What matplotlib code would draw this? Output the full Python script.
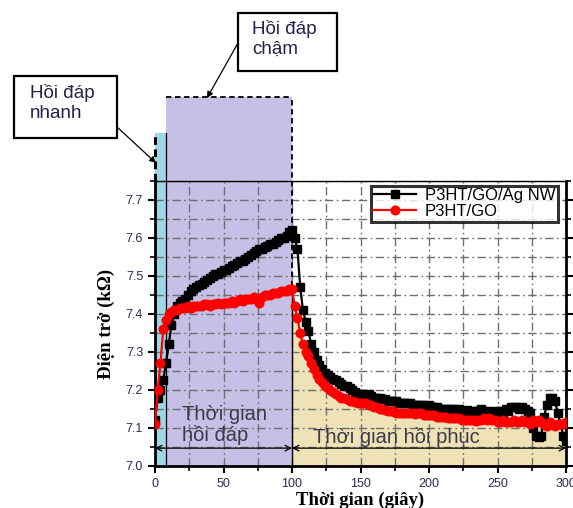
import matplotlib
matplotlib.use('Agg')
import matplotlib.pyplot as plt
import numpy as np
from matplotlib.patches import Rectangle, FancyArrowPatch
from matplotlib.ticker import MultipleLocator, FormatStrFormatter

# ---------------- data ----------------
time_s = list(range(0, 301, 2))

r_agnw = [
    7.12, 7.18, 7.20, 7.225, 7.27, 7.32, 7.37, 7.40, 7.42, 7.43,
    7.435, 7.44, 7.45, 7.46, 7.465, 7.47, 7.475, 7.48, 7.485, 7.49,
    7.495, 7.50, 7.505, 7.505, 7.51, 7.515, 7.515, 7.52, 7.525, 7.53,
    7.535, 7.54, 7.54, 7.545, 7.55, 7.555, 7.56, 7.565, 7.57, 7.57,
    7.575, 7.58, 7.585, 7.585, 7.59, 7.595, 7.60, 7.60, 7.605, 7.615,
    7.62, 7.60, 7.57, 7.47, 7.41, 7.38, 7.355, 7.32, 7.30, 7.28,
    7.265, 7.255, 7.245, 7.24, 7.235, 7.23, 7.225, 7.22, 7.215, 7.21,
    7.21, 7.205, 7.20, 7.195, 7.19, 7.19, 7.19, 7.185, 7.19, 7.185,
    7.18, 7.18, 7.18, 7.175, 7.175, 7.17, 7.17, 7.17, 7.17, 7.165,
    7.165, 7.165, 7.165, 7.165, 7.16, 7.16, 7.16, 7.16, 7.16, 7.155,
    7.16, 7.155, 7.155, 7.155, 7.15, 7.15, 7.15, 7.15, 7.15, 7.15,
    7.148, 7.15, 7.145, 7.145, 7.148, 7.14, 7.145, 7.145, 7.145, 7.15,
    7.145, 7.14, 7.145, 7.14, 7.14, 7.145, 7.145, 7.14, 7.15, 7.145,
    7.155, 7.155, 7.155, 7.15, 7.155, 7.15, 7.145, 7.14, 7.10, 7.08,
    7.075, 7.08, 7.13, 7.16, 7.18, 7.18, 7.17, 7.14, 7.11, 7.08,
    7.065,
]

r_go = [
    7.11, 7.20, 7.27, 7.36, 7.385, 7.40, 7.405, 7.41, 7.41, 7.415,
    7.415, 7.415, 7.42, 7.415, 7.42, 7.42, 7.42, 7.42, 7.425, 7.425,
    7.42, 7.425, 7.425, 7.43, 7.425, 7.43, 7.43, 7.43, 7.435, 7.43,
    7.435, 7.44, 7.435, 7.44, 7.44, 7.44, 7.445, 7.44, 7.43, 7.445,
    7.45, 7.45, 7.45, 7.455, 7.455, 7.455, 7.46, 7.46, 7.46, 7.465,
    7.465, 7.42, 7.39, 7.35, 7.32, 7.30, 7.29, 7.27, 7.255, 7.24,
    7.23, 7.22, 7.21, 7.205, 7.20, 7.195, 7.19, 7.185, 7.18, 7.178,
    7.175, 7.172, 7.17, 7.168, 7.166, 7.165, 7.165, 7.165, 7.16, 7.16,
    7.155, 7.155, 7.15, 7.15, 7.148, 7.145, 7.145, 7.145, 7.14, 7.14,
    7.14, 7.14, 7.14, 7.14, 7.14, 7.138, 7.14, 7.14, 7.135, 7.135,
    7.135, 7.135, 7.135, 7.13, 7.13, 7.13, 7.128, 7.125, 7.125, 7.125,
    7.125, 7.125, 7.12, 7.12, 7.12, 7.12, 7.12, 7.118, 7.12, 7.12,
    7.125, 7.12, 7.125, 7.12, 7.12, 7.115, 7.115, 7.12, 7.115, 7.115,
    7.115, 7.12, 7.115, 7.115, 7.12, 7.115, 7.115, 7.11, 7.12, 7.115,
    7.12, 7.115, 7.11, 7.105, 7.115, 7.11, 7.105, 7.11, 7.11, 7.11,
    7.115,
]

series_names = ["P3HT/GO/Ag NW", "P3HT/GO"]
x_ticks = [0, 50, 100, 150, 200, 250, 300]
y_ticks = [7.0, 7.1, 7.2, 7.3, 7.4, 7.5, 7.6, 7.7]

# ---------------- figure ----------------
W, H = 573, 508
fig = plt.figure(figsize=(W / 100, H / 100), dpi=100)

def fp(px, py):
    return (px / W, 1 - py / H)

ax_l, ax_r, ax_t, ax_b = 155, 566, 181, 466
ax = fig.add_axes([ax_l / W, 1 - ax_b / H, (ax_r - ax_l) / W, (ax_b - ax_t) / H])
ax.set_xlim(0, 300)
ax.set_ylim(7.0, 7.75)

t = np.array(time_s)
a = np.array(r_agnw)
g = np.array(r_go)

cyan = '#9ed8e7'
purple = '#c6bfe6'
tan = '#efe2b6'

# shaded regions (extend above the axes)
ax.add_patch(Rectangle((0, 7.0), 8, 0.876, facecolor=cyan, edgecolor='none', zorder=0.5, clip_on=False))
ax.add_patch(Rectangle((8, 7.0), 92, 0.971, facecolor=purple, edgecolor='none', zorder=0.5, clip_on=False))
m = t >= 100
ax.fill_between(t[m], 7.0, g[m], color=tan, lw=0, zorder=0.5)

# borders of highlighted regions
ax.plot([0, 0], [7.75, 7.876], color='black', lw=2.2, ls=(0, (2.5, 1.5)), clip_on=False, zorder=3)
ax.plot([8, 8], [7.0, 7.876], color='black', lw=0.9, clip_on=False, zorder=3)
ax.plot([8, 100], [7.971, 7.971], color='black', lw=1.3, ls=(0, (3, 2)), clip_on=False, zorder=3)
ax.plot([100, 100], [7.45, 7.971], color='black', lw=1.3, ls=(0, (3, 2)), clip_on=False, zorder=3)
ax.plot([100, 100], [7.0, 7.45], color='black', lw=1.0, zorder=3)

# grid
ax.xaxis.set_minor_locator(MultipleLocator(25))
ax.yaxis.set_minor_locator(MultipleLocator(0.05))
ax.set_xticks(x_ticks)
ax.set_yticks(y_ticks)
ax.yaxis.set_major_formatter(FormatStrFormatter('%.1f'))
ax.set_axisbelow('line')
gstyle = dict(color='#6f6f6f', lw=1.0, ls=(0, (6, 2.5, 1.2, 2.5)))
ax.grid(True, which='both', **gstyle)

# data
ax.plot(t, a, color='black', lw=1.6, marker='s', ms=5.5, mec='black', mfc='black',
        label=series_names[0], zorder=4)
ax.plot(t, g, color='red', lw=1.6, marker='o', ms=6.2, mec='red', mfc='red',
        label=series_names[1], zorder=5)

# double-headed arrows
ax.annotate('', xy=(0, 7.047), xytext=(100, 7.047),
            arrowprops=dict(arrowstyle='<->', color='black', lw=0.9, shrinkA=0, shrinkB=0), zorder=6)
ax.annotate('', xy=(100, 7.047), xytext=(300, 7.047),
            arrowprops=dict(arrowstyle='<->', color='black', lw=0.9, shrinkA=0, shrinkB=0), zorder=6)

txtc = '#3a3a4a'
ax.text(20, 7.108, 'Thời gian\nhồi đáp', fontsize=14.5, family='Liberation Sans', color=txtc,
        va='center', ha='left', linespacing=1.05, zorder=6)
ax.text(115, 7.076, 'Thời gian hồi phục', fontsize=14.5, family='Liberation Sans', color=txtc,
        va='center', ha='left', zorder=6)

# spines and ticks
for s in ['left', 'bottom', 'right']:
    ax.spines[s].set_linewidth(2.0)
ax.spines['top'].set_linewidth(1.0)
ax.tick_params(axis='both', which='major', direction='out', length=5, width=1.5,
               labelsize=9, colors='black', labelcolor='#2b2b55')
ax.tick_params(axis='both', which='minor', direction='out', length=3.5, width=1.2)
ax.tick_params(axis='y', which='both', right=True)
for lab in ax.get_xticklabels() + ax.get_yticklabels():
    lab.set_family('Liberation Sans')

ax.set_xlabel('Thời gian (giây)', fontsize=13.5, fontweight='bold', family='Liberation Serif', labelpad=1)
ax.set_ylabel('Điện trở (kΩ)', fontsize=13.5, fontweight='bold', family='Liberation Serif', labelpad=8)

leg = ax.legend(loc='upper right', bbox_to_anchor=(0.988, 0.995), numpoints=1,
                prop={'family': 'Liberation Sans', 'size': 12}, frameon=True, fancybox=False,
                handlelength=2.6, borderpad=0.15, labelspacing=0.05, handletextpad=0.5,
                borderaxespad=0.2)
leg.get_frame().set_edgecolor('black')
leg.get_frame().set_linewidth(2.2)
leg.set_zorder(10)

# callout boxes
def box(x0, y0, x1, y1, text, tx, ty):
    fx0, fy1 = fp(x0, y1)
    fx1, fy0 = fp(x1, y0)
    fig.add_artist(Rectangle((fx0, fy1), fx1 - fx0, fy0 - fy1, transform=fig.transFigure,
                             facecolor='white', edgecolor='black', lw=1.6))
    fig.text(*fp(tx, ty), text, fontsize=13.5, family='Liberation Sans', color='#22224a',
             va='top', ha='left', linespacing=1.25)

box(14, 76, 117, 138, 'Hồi đáp\nnhanh', 30, 84)
box(238, 13, 337, 71, 'Hồi đáp\nchậm', 252, 20)

arrow_kw = dict(arrowstyle='-|>', color='black', lw=0.9, mutation_scale=9, shrinkA=0, shrinkB=0)
fig.add_artist(FancyArrowPatch(fp(117, 127), fp(156, 163), transform=fig.transFigure, **arrow_kw))
fig.add_artist(FancyArrowPatch(fp(238, 43), fp(207, 98), transform=fig.transFigure, **arrow_kw))

fig.savefig('out.png', dpi=100)
